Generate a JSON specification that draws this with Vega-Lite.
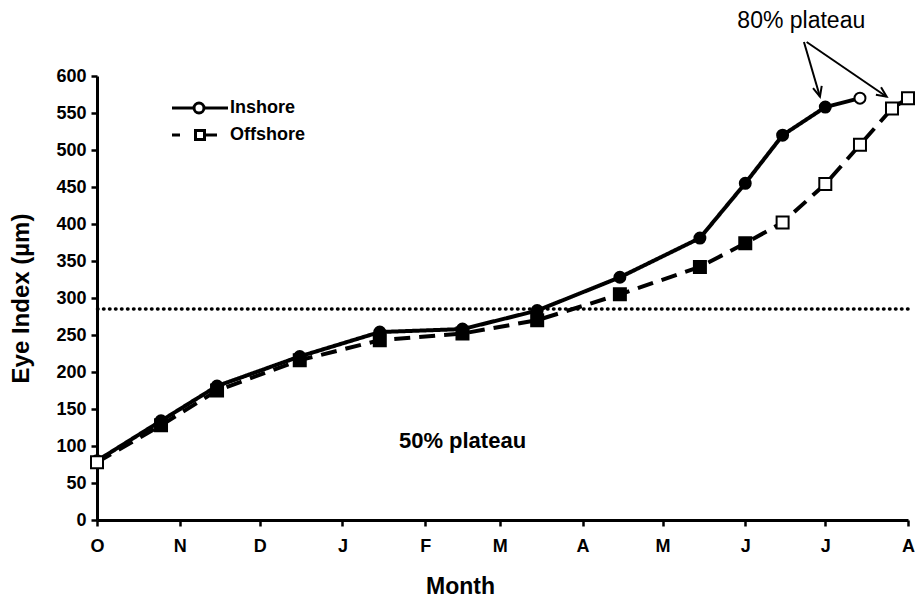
{
  "$schema": "https://vega.github.io/schema/vega-lite/v6.json",
  "width": 811,
  "height": 444,
  "autosize": {"type": "none"},
  "padding": {"left": 97, "top": 76, "right": 8, "bottom": 81},
  "background": "white",
  "config": {
    "view": {"stroke": null},
    "font": "Liberation Sans",
    "axis": {
      "grid": false,
      "domainColor": "black",
      "domainWidth": 3,
      "tickColor": "black",
      "tickWidth": 2.5,
      "tickSize": 6,
      "labelFont": "Liberation Sans",
      "labelFontWeight": "bold",
      "labelFontSize": 18,
      "labelColor": "black",
      "titleFont": "Liberation Sans",
      "titleFontWeight": "bold",
      "titleColor": "black",
      "labelFlush": false,
      "labelOverlap": false
    }
  },
  "datasets": {
    "eye": [
      {"date": "2004-10-01", "series": "Inshore", "value": 80, "marker": "open"},
      {"date": "2004-10-25", "series": "Inshore", "value": 134, "marker": "solid"},
      {"date": "2004-11-15", "series": "Inshore", "value": 181, "marker": "solid"},
      {"date": "2004-12-16", "series": "Inshore", "value": 221, "marker": "solid"},
      {"date": "2005-01-15", "series": "Inshore", "value": 254, "marker": "solid"},
      {"date": "2005-02-15", "series": "Inshore", "value": 258, "marker": "solid"},
      {"date": "2005-03-15", "series": "Inshore", "value": 283, "marker": "solid"},
      {"date": "2005-04-15", "series": "Inshore", "value": 328, "marker": "solid"},
      {"date": "2005-05-15", "series": "Inshore", "value": 381, "marker": "solid"},
      {"date": "2005-06-01", "series": "Inshore", "value": 455, "marker": "solid"},
      {"date": "2005-06-15", "series": "Inshore", "value": 520, "marker": "solid"},
      {"date": "2005-07-01", "series": "Inshore", "value": 558, "marker": "solid"},
      {"date": "2005-07-14", "series": "Inshore", "value": 570, "marker": "open"},
      {"date": "2004-10-01", "series": "Offshore", "value": 78, "marker": "open"},
      {"date": "2004-10-25", "series": "Offshore", "value": 128, "marker": "solid"},
      {"date": "2004-11-15", "series": "Offshore", "value": 175, "marker": "solid"},
      {"date": "2004-12-16", "series": "Offshore", "value": 216, "marker": "solid"},
      {"date": "2005-01-15", "series": "Offshore", "value": 243, "marker": "solid"},
      {"date": "2005-02-15", "series": "Offshore", "value": 252, "marker": "solid"},
      {"date": "2005-03-15", "series": "Offshore", "value": 270, "marker": "solid"},
      {"date": "2005-04-15", "series": "Offshore", "value": 305, "marker": "solid"},
      {"date": "2005-05-15", "series": "Offshore", "value": 342, "marker": "solid"},
      {"date": "2005-06-01", "series": "Offshore", "value": 374, "marker": "solid"},
      {"date": "2005-06-15", "series": "Offshore", "value": 402, "marker": "open"},
      {"date": "2005-07-01", "series": "Offshore", "value": 454, "marker": "open"},
      {"date": "2005-07-14", "series": "Offshore", "value": 507, "marker": "open"},
      {"date": "2005-07-26", "series": "Offshore", "value": 556, "marker": "open"},
      {"date": "2005-08-01", "series": "Offshore", "value": 570, "marker": "open"}
    ]
  },
  "resolve": {"scale": {"shape": "independent", "size": "independent"}},
  "layer": [
    {
      "data": {"name": "eye"},
      "mark": {"type": "line", "color": "black", "strokeWidth": 4},
      "encoding": {
        "x": {
          "field": "date",
          "type": "temporal",
          "scale": {"type": "utc", "domain": [{"year": 2004, "month": 10, "date": 1, "utc": true}, {"year": 2005, "month": 8, "date": 1, "utc": true}]},
          "axis": {
            "title": "Month",
            "tickCount": {"interval": "month", "step": 1},
            "format": "%b",
            "labelExpr": "slice(datum.label, 0, 1)",
            "labelPadding": 11,
            "titleFontSize": 23,
            "titlePadding": 20,
            "titleX": 363
          }
        },
        "y": {
          "field": "value",
          "type": "quantitative",
          "scale": {"domain": [0, 600], "nice": false},
          "axis": {"title": "Eye Index (µm)", "values": [0, 50, 100, 150, 200, 250, 300, 350, 400, 450, 500, 550, 600], "labelPadding": 5, "titleFontSize": 24, "titlePadding": 22}
        },
        "strokeDash": {
          "field": "series",
          "type": "nominal",
          "scale": {"domain": ["Inshore", "Offshore"], "range": [[1, 0], [16, 9]]},
          "legend": null
        }
      }
    },
    {
      "data": {"values": [{"level": 285}]},
      "mark": {"type": "rule", "color": "black", "strokeWidth": 3.5, "strokeDash": [0.5, 5.5], "strokeCap": "round"},
      "encoding": {
        "y": {"field": "level", "type": "quantitative", "axis": {"title": "Eye Index (µm)", "values": [0, 50, 100, 150, 200, 250, 300, 350, 400, 450, 500, 550, 600], "labelPadding": 5, "titleFontSize": 24, "titlePadding": 22}}
      }
    },
    {
      "data": {"name": "eye"},
      "mark": {"type": "point", "filled": true, "stroke": "black", "strokeWidth": 2, "opacity": 1},
      "encoding": {
        "x": {"field": "date", "type": "temporal"},
        "y": {"field": "value", "type": "quantitative", "axis": {"title": "Eye Index (µm)", "values": [0, 50, 100, 150, 200, 250, 300, 350, 400, 450, 500, 550, 600], "labelPadding": 5, "titleFontSize": 24, "titlePadding": 22}},
        "shape": {
          "field": "series",
          "type": "nominal",
          "scale": {"domain": ["Inshore", "Offshore"], "range": ["circle", "square"]},
          "legend": null
        },
        "size": {
          "field": "series",
          "type": "nominal",
          "scale": {"domain": ["Inshore", "Offshore"], "range": [120, 144]},
          "legend": null
        },
        "fill": {
          "field": "marker",
          "type": "nominal",
          "scale": {"domain": ["solid", "open"], "range": ["black", "white"]},
          "legend": null
        }
      }
    },
    {
      "data": {"name": "eye"},
      "transform": [{"filter": "false"}],
      "mark": {"type": "point", "filled": false, "color": "black", "strokeWidth": 3, "opacity": 1},
      "encoding": {
        "shape": {
          "field": "series",
          "type": "nominal",
          "scale": {
            "domain": ["Inshore", "Offshore"],
            "range": [
              "M -2.8 0 L -0.6 0 M 0.4 0 L 2.8 0 M -0.6 0 A 0.5 0.5 0 1 1 0.4 0 A 0.5 0.5 0 1 1 -0.6 0",
              "M -2.8 0 L -2.0 0 M -0.45 -0.45 L 0.45 -0.45 L 0.45 0.45 L -0.45 0.45 Z M 0.6 0 L 1.7 0"
            ]
          },
          "legend": {
            "orient": "none",
            "legendX": 91.5,
            "legendY": 20.5,
            "title": null,
            "padding": 0,
            "symbolSize": 400,
            "symbolStrokeWidth": 3,
            "symbolStrokeColor": "black",
            "labelFont": "Liberation Sans",
            "labelFontWeight": "bold",
            "labelFontSize": 18,
            "labelColor": "black",
            "labelOffset": 18.5,
            "rowPadding": 4
          }
        }
      }
    },
    {
      "data": {"values": [{"date": "2005-02-15", "value": 107, "label": "50% plateau"}]},
      "mark": {"type": "text", "font": "Liberation Sans", "fontWeight": "bold", "fontSize": 22, "color": "black", "align": "center", "baseline": "middle"},
      "encoding": {
        "x": {"field": "date", "type": "temporal"},
        "y": {"field": "value", "type": "quantitative", "axis": {"title": "Eye Index (µm)", "values": [0, 50, 100, 150, 200, 250, 300, 350, 400, 450, 500, 550, 600], "labelPadding": 5, "titleFontSize": 24, "titlePadding": 22}},
        "text": {"field": "label"}
      }
    },
    {
      "data": {"values": [{"date": "2005-06-22", "value": 674, "label": "80% plateau"}]},
      "mark": {"type": "text", "font": "Liberation Sans", "fontSize": 23, "color": "black", "align": "center", "baseline": "middle"},
      "encoding": {
        "x": {"field": "date", "type": "temporal"},
        "y": {"field": "value", "type": "quantitative", "axis": {"title": "Eye Index (µm)", "values": [0, 50, 100, 150, 200, 250, 300, 350, 400, 450, 500, 550, 600], "labelPadding": 5, "titleFontSize": 24, "titlePadding": 22}},
        "text": {"field": "label"}
      }
    },
    {
      "data": {"values": [
        {"from": "2005-06-23", "top": 646, "to": "2005-06-29", "bottom": 572},
        {"from": "2005-06-24", "top": 646, "to": "2005-07-24", "bottom": 572}
      ]},
      "mark": {"type": "rule", "color": "black", "strokeWidth": 2},
      "encoding": {
        "x": {"field": "from", "type": "temporal"},
        "y": {"field": "top", "type": "quantitative", "axis": {"title": "Eye Index (µm)", "values": [0, 50, 100, 150, 200, 250, 300, 350, 400, 450, 500, 550, 600], "labelPadding": 5, "titleFontSize": 24, "titlePadding": 22}},
        "x2": {"field": "to"},
        "y2": {"field": "bottom"}
      }
    },
    {
      "data": {"values": [{"to": "2005-06-29", "bottom": 572}]},
      "mark": {"type": "point", "shape": "M -0.9 -2 L 0 0 L 0.9 -2", "size": 100, "filled": false, "color": "black", "strokeWidth": 2, "opacity": 1, "angle": 345},
      "encoding": {
        "x": {"field": "to", "type": "temporal"},
        "y": {"field": "bottom", "type": "quantitative", "axis": {"title": "Eye Index (µm)", "values": [0, 50, 100, 150, 200, 250, 300, 350, 400, 450, 500, 550, 600], "labelPadding": 5, "titleFontSize": 24, "titlePadding": 22}}
      }
    },
    {
      "data": {"values": [{"to": "2005-07-24", "bottom": 572}]},
      "mark": {"type": "point", "shape": "M -0.9 -2 L 0 0 L 0.9 -2", "size": 100, "filled": false, "color": "black", "strokeWidth": 2, "opacity": 1, "angle": 305},
      "encoding": {
        "x": {"field": "to", "type": "temporal"},
        "y": {"field": "bottom", "type": "quantitative", "axis": {"title": "Eye Index (µm)", "values": [0, 50, 100, 150, 200, 250, 300, 350, 400, 450, 500, 550, 600], "labelPadding": 5, "titleFontSize": 24, "titlePadding": 22}}
      }
    }
  ]
}
